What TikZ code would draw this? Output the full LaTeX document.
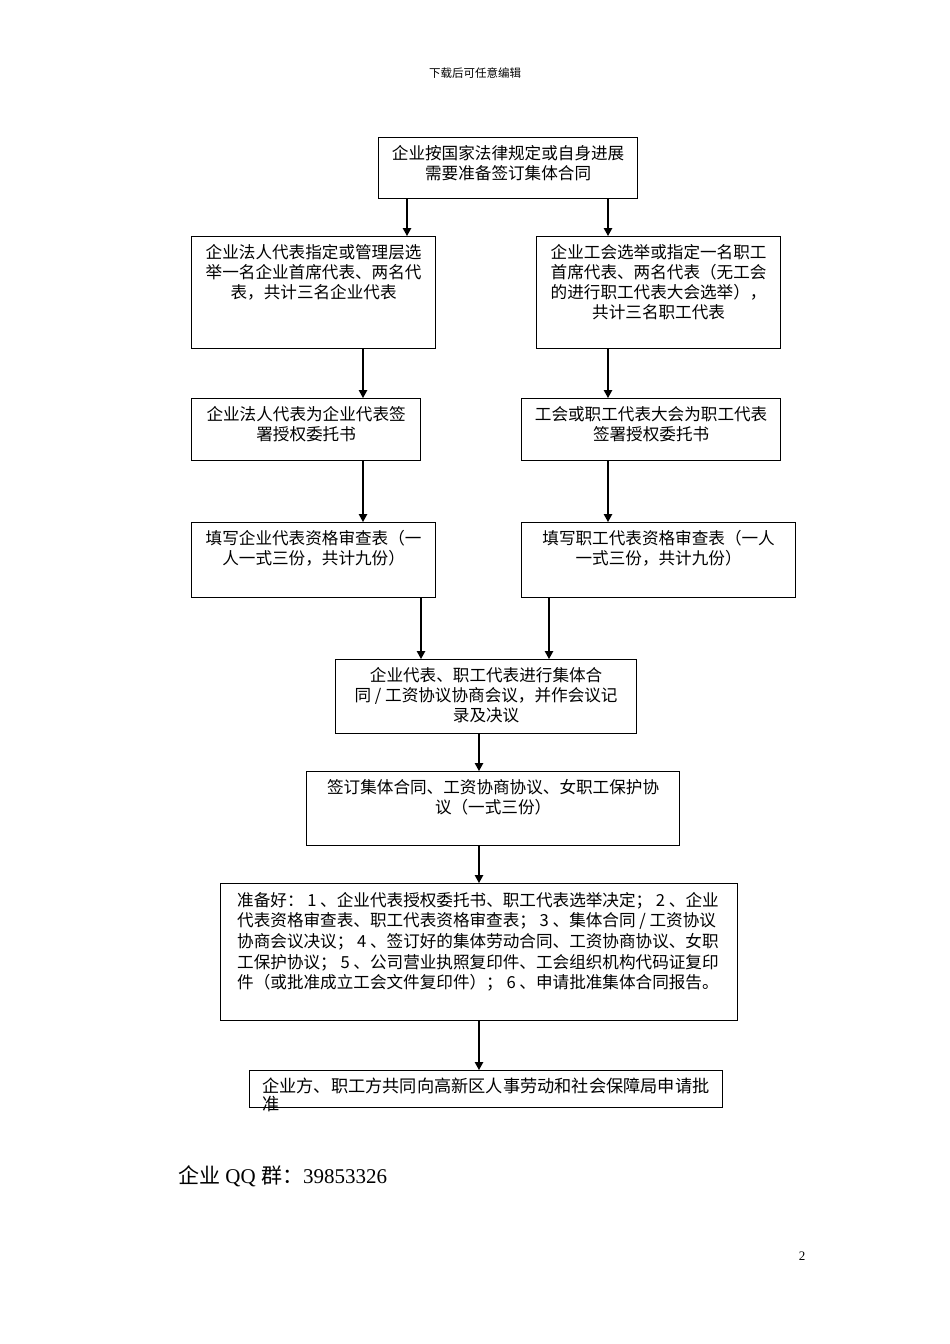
\documentclass[tikz,border=0pt]{standalone}
\usepackage{fontspec}
\setmainfont{Liberation Serif}
\newfontfamily\cjk{Noto Sans CJK SC}
\usetikzlibrary{arrows.meta}
\begin{document}
\begin{tikzpicture}[x=1pt,y=-1pt,
  box/.style={draw, line width=1.2pt, inner sep=0pt, anchor=north west},
  txt/.style={font=\cjk\fontsize{16.6}{20}\selectfont, align=center, inner sep=0pt, anchor=north},
  arr/.style={line width=1.2pt, -{Triangle[length=8pt,width=8.5pt]}}]
\useasboundingbox (0,0) rectangle (950,1344);
% header / footer
\node[font=\cjk\fontsize{11.5}{13}\selectfont, inner sep=0pt] (hdr) at (475,73) {下载后可任意编辑};
\node[font=\fontsize{21}{24}\selectfont, inner sep=0pt, anchor=west] (ftr) at (178,1176) {{\cjk 企业} QQ {\cjk 群：}39853326};
\node[font=\fontsize{13}{15}\selectfont, inner sep=0pt] (pg) at (802,1256) {2};
% boxes
\node[box, minimum width=259pt, minimum height=61pt] (n1) at (378,137) {};
\node[box, minimum width=244pt, minimum height=112pt] (la) at (191,236) {};
\node[box, minimum width=244pt, minimum height=112pt] (ra) at (536,236) {};
\node[box, minimum width=229pt, minimum height=62pt] (lb) at (191,398) {};
\node[box, minimum width=259pt, minimum height=62pt] (rb) at (521,398) {};
\node[box, minimum width=244pt, minimum height=75pt] (lc) at (191,522) {};
\node[box, minimum width=274pt, minimum height=75pt] (rc) at (521,522) {};
\node[box, minimum width=301pt, minimum height=74pt] (m) at (335,659) {};
\node[box, minimum width=373pt, minimum height=74pt] (s) at (306,771) {};
\node[box, minimum width=517pt, minimum height=137pt] (p) at (220,883) {};
\node[box, minimum width=473pt, minimum height=37pt] (f) at (249,1070) {};
% texts
\node[txt] (t1) at ([yshift=-8pt]n1.north) {企业按国家法律规定或自身进展\\需要准备签订集体合同};
\node[txt] (tla) at ([yshift=-8pt]la.north) {企业法人代表指定或管理层选\\举一名企业首席代表、两名代\\表，共计三名企业代表};
\node[txt] (tra) at ([yshift=-8pt]ra.north) {企业工会选举或指定一名职工\\首席代表、两名代表（无工会\\的进行职工代表大会选举），\\共计三名职工代表};
\node[txt] (tlb) at ([yshift=-8pt]lb.north) {企业法人代表为企业代表签\\署授权委托书};
\node[txt] (trb) at ([yshift=-8pt]rb.north) {工会或职工代表大会为职工代表\\签署授权委托书};
\node[txt] (tlc) at ([yshift=-8pt]lc.north) {填写企业代表资格审查表（一\\人一式三份，共计九份）};
\node[txt] (trc) at ([yshift=-8pt]rc.north) {填写职工代表资格审查表（一人\\一式三份，共计九份）};
\node[txt] (tm) at ([yshift=-8pt]m.north) {企业代表、职工代表进行集体合\\同 / 工资协议协商会议，并作会议记\\录及决议};
\node[txt] (ts) at ([yshift=-8pt]s.north) {签订集体合同、工资协商协议、女职工保护协\\议（一式三份）};
\node[txt, align=left, anchor=north west, font=\cjk\fontsize{16.6}{20.6}\selectfont] (tp) at (237,892)
 {准备好： 1 、企业代表授权委托书、职工代表选举决定； 2 、企业\\
  代表资格审查表、职工代表资格审查表； 3 、集体合同 / 工资协议\\
  协商会议决议； 4 、签订好的集体劳动合同、工资协商协议、女职\\
  工保护协议； 5 、公司营业执照复印件、工会组织机构代码证复印\\
  件（或批准成立工会文件复印件）； 6 、申请批准集体合同报告。};
\node[txt, align=left, anchor=north west, font=\cjk\fontsize{17.2}{18}\selectfont] (tf) at (262,1078)
 {企业方、职工方共同向高新区人事劳动和社会保障局申请批\\准};
% arrow columns
\coordinate (xa) at (407,0);
\coordinate (xb) at (608,0);
\coordinate (xc) at (363,0);
\coordinate (xd) at (421,0);
\coordinate (xe) at (549,0);
\coordinate (xf) at (479,0);
% arrows
\draw[arr] (n1.south -| xa) -- (la.north -| xa);
\draw[arr] (n1.south -| xb) -- (ra.north -| xb);
\draw[arr] (la.south -| xc) -- (lb.north -| xc);
\draw[arr] (ra.south -| xb) -- (rb.north -| xb);
\draw[arr] (lb.south -| xc) -- (lc.north -| xc);
\draw[arr] (rb.south -| xb) -- (rc.north -| xb);
\draw[arr] (lc.south -| xd) -- (m.north -| xd);
\draw[arr] (rc.south -| xe) -- (m.north -| xe);
\draw[arr] (m.south -| xf) -- (s.north -| xf);
\draw[arr] (s.south -| xf) -- (p.north -| xf);
\draw[arr] (p.south -| xf) -- (f.north -| xf);
\end{tikzpicture}
\end{document}
